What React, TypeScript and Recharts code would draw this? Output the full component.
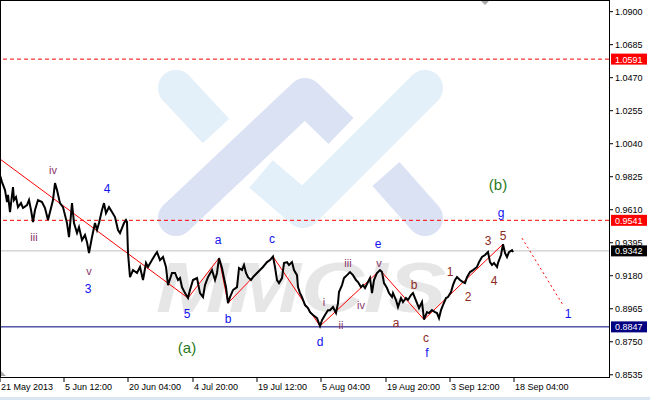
import React from "react";
import { LineChart, Line, XAxis, YAxis, ReferenceLine, ReferenceDot } from "recharts";

// H4 bars, one bar per pixel column; price
const barIndex = [
  0, 2, 5, 7, 8, 10, 13, 14, 16, 18, 21, 23, 27, 29, 31, 33, 35, 38, 42, 45, 48, 50, 53, 55, 57, 60, 63, 67, 69, 72,
  74, 77, 79, 82, 85, 87, 89, 92, 95, 97, 99, 102, 104, 106, 109, 112, 115, 118, 120, 124, 126, 127, 128, 130, 133,
  137, 140, 143, 146, 148, 152, 155, 157, 160, 163, 166, 168, 172, 175, 178, 180, 182, 185, 188, 190, 193, 197, 200,
  203, 205, 208, 212, 215, 217, 219, 222, 224, 226, 228, 230, 233, 237, 239, 242, 244, 246, 248, 251, 253, 257, 260,
  263, 267, 270, 273, 275, 277, 279, 282, 284, 287, 289, 292, 294, 297, 298, 300, 302, 305, 308, 310, 313, 317, 320,
  322, 325, 328, 330, 333, 336, 338, 339, 342, 344, 347, 350, 353, 356, 358, 361, 363, 365, 368, 370, 372, 374, 377,
  380, 382, 384, 387, 389, 392, 393, 396, 398, 401, 403, 406, 408, 411, 413, 415, 417, 419, 422, 424, 427, 429, 432,
  435, 437, 439, 441, 443, 446, 448, 451, 453, 455, 457, 460, 463, 465, 467, 470, 473, 477, 479, 482, 485, 488, 490,
  492, 494, 497, 498, 501, 503, 505, 507, 509, 512, 513,
];
const closePrice = [
  0.9835, 0.979, 0.9738, 0.966, 0.9706, 0.9595, 0.9758, 0.9673, 0.9693, 0.9627, 0.9653, 0.9621, 0.964, 0.9673,
  0.9608, 0.953, 0.9608, 0.9673, 0.966, 0.9621, 0.9543, 0.9595, 0.9673, 0.9784, 0.9738, 0.9653, 0.9627, 0.9523,
  0.9432, 0.9653, 0.9523, 0.9458, 0.9497, 0.9412, 0.9445, 0.9399, 0.9328, 0.9432, 0.9523, 0.9478, 0.9523, 0.9608,
  0.9653, 0.9588, 0.9627, 0.9595, 0.9562, 0.9478, 0.9458, 0.9523, 0.9543, 0.953, 0.9328, 0.9171, 0.9217, 0.9198,
  0.9237, 0.9152, 0.9263, 0.9237, 0.9282, 0.9315, 0.9334, 0.9282, 0.9302, 0.9237, 0.9119, 0.9198, 0.9198, 0.9152,
  0.9165, 0.9106, 0.9067, 0.9035, 0.9087, 0.9152, 0.9165, 0.9067, 0.9041, 0.9119, 0.9171, 0.9217, 0.9152, 0.9198,
  0.9295, 0.923, 0.9165, 0.9106, 0.9002, 0.9041, 0.9087, 0.9106, 0.923, 0.9217, 0.925, 0.9198, 0.9171, 0.9152,
  0.9171, 0.9198, 0.9217, 0.9237, 0.9269, 0.9282, 0.9305, 0.9237, 0.9152, 0.9132, 0.9165, 0.9263, 0.9269, 0.925,
  0.9269, 0.9217, 0.9184, 0.9106, 0.9067, 0.9041, 0.8989, 0.897, 0.8943, 0.8924, 0.8904, 0.8852, 0.8891, 0.8924,
  0.8956, 0.8956, 0.8976, 0.8937, 0.9002, 0.9074, 0.9119, 0.9165, 0.9184, 0.9204, 0.9184, 0.9152, 0.9139, 0.9106,
  0.9119, 0.91, 0.9139, 0.9165, 0.9067, 0.9152, 0.9198, 0.9217, 0.9204, 0.9132, 0.91, 0.9067, 0.9041, 0.9067,
  0.9022, 0.8976, 0.9035, 0.9009, 0.9035, 0.9022, 0.9054, 0.9067, 0.9035, 0.9002, 0.897, 0.9009, 0.8895, 0.8943,
  0.8937, 0.8956, 0.8943, 0.8937, 0.8904, 0.8956, 0.8989, 0.9035, 0.9041, 0.9074, 0.9119, 0.9152, 0.9171, 0.9152,
  0.9139, 0.9132, 0.9171, 0.9204, 0.9217, 0.9237, 0.9269, 0.9302, 0.9315, 0.9334, 0.9269, 0.925, 0.9263, 0.9237,
  0.9263, 0.9315, 0.9386, 0.9328, 0.9302, 0.9334, 0.9347, 0.9334,
];

// wave zigzag (red) and forecast (red dotted)
const waveBars = [0, 188, 219, 228, 273, 320, 380, 424, 503];
const wavePrices = [0.994, 0.9035, 0.9295, 0.9002, 0.9305, 0.8852, 0.9217, 0.8895, 0.9386];
const forecastBars = [522, 563];
const forecastPrices = [0.9425, 0.8989];

// horizontal levels
const levelPrices = [1.0591, 0.9541, 0.9342, 0.8847];
const levelKinds = ["target", "target", "last", "support"];

const priceTicks = [0.8535, 0.875, 0.8965, 0.918, 0.9395, 0.961, 0.9825, 1.004, 1.0255, 1.047, 1.0685, 1.09];
const timeTickBars = [0, 64, 128, 193, 257, 321, 386, 450, 514];
const timeTickLabels = [
  "21 May 2013", "5 Jun 12:00", "20 Jun 04:00", "4 Jul 20:00", "19 Jul 12:00",
  "5 Aug 04:00", "19 Aug 20:00", "3 Sep 12:00", "18 Sep 04:00",
];

// wave labels
const labelText = [
  "iv", "iii", "v", "3", "4", "5", "(a)", "a", "b", "c", "d", "i", "ii", "iii", "iv", "v", "e",
  "a", "b", "c", "f", "1", "2", "3", "4", "5", "(b)", "g", "1",
];
const labelBar = [
  53, 34, 89, 88, 107, 187, 187, 218, 228, 272, 320, 324, 341, 348, 361, 379, 378,
  396, 414, 426, 427, 450, 468, 488, 494, 503, 498, 501, 568,
];
const labelPrice = [
  0.9868, 0.9432, 0.921, 0.9093, 0.9745, 0.893, 0.8715, 0.9412, 0.8898, 0.9419, 0.8748, 0.9009, 0.8859, 0.9263,
  0.8989, 0.9263, 0.9386, 0.8872, 0.9119, 0.8774, 0.8676, 0.9204, 0.9041, 0.9406, 0.9145, 0.9438, 0.9777, 0.9588, 0.893,
];
const labelDegree = [
  "minuette", "minuette", "minuette", "minor", "minor", "minor", "intermediate", "minor", "minor", "minor", "minor",
  "minuette", "minuette", "minuette", "minuette", "minuette", "minor",
  "minute", "minute", "minute", "minor", "minute", "minute", "minute", "minute", "minute", "intermediate", "minor", "minor",
];

const priceData = barIndex.map((bar, i) => ({ bar, price: closePrice[i] }));
const waveData = waveBars.map((bar, i) => ({ bar, price: wavePrices[i] }));
const forecastData = forecastBars.map((bar, i) => ({ bar, price: forecastPrices[i] }));

const FONT = "'Liberation Sans', Arial, sans-serif";

const DEGREE_STYLE: Record<string, { color: string; size: number }> = {
  intermediate: { color: "#2a7a22", size: 15 },
  minor: { color: "#1010f0", size: 12 },
  minute: { color: "#8e2a1e", size: 12 },
  minuette: { color: "#8a3468", size: 11 },
};

const LEVEL_STYLE: Record<string, { stroke: string; dash?: string; box: string }> = {
  target: { stroke: "#ff0000", dash: "4 3", box: "#ff0000" },
  last: { stroke: "#c0c0c0", box: "#000000" },
  support: { stroke: "#000080", box: "#000080" },
};

function PriceTick({ x, y, payload }: any) {
  return (
    <g>
      <line x1={x - 5} x2={x - 2} y1={y} y2={y} stroke="#000" />
      <text x={x} y={y + 3} fontSize={9} fontFamily={FONT} fill="#000">
        {payload.value.toFixed(4)}
      </text>
    </g>
  );
}

function TimeTick({ x, y, payload }: any) {
  const idx = timeTickBars.indexOf(payload.value);
  return (
    <g>
      <line x1={x} x2={x} y1={y - 6} y2={y - 2} stroke="#000" />
      <text x={x + 1} y={y + 6} fontSize={9} fontFamily={FONT} fill="#000">
        {timeTickLabels[idx]}
      </text>
    </g>
  );
}

function Watermark() {
  return (
    <svg width={650} height={400} style={{ position: "absolute", left: 0, top: 0 }}>
      <text
        x={156}
        y={312}
        fontSize={70}
        fontStyle="italic"
        fontWeight="bold"
        fontFamily={FONT}
        fill="#e6e6e6"
        textLength={290}
        lengthAdjust="spacingAndGlyphs"
      >
        MMCIS
      </text>
      <g fill="none" strokeWidth={36} strokeLinejoin="round">
        <polyline points="176,88 216,131" stroke="#e3f0fa" />
        <circle cx={176} cy={88} r={18} fill="#e3f0fa" />
        <polyline points="176,218 305,96 341,131" stroke="#dbe2f4" />
        <circle cx={176} cy={218} r={18} fill="#dbe2f4" />
        <polyline points="386,174 425,218" stroke="#dbe2f4" />
        <circle cx={425} cy={218} r={18} fill="#dbe2f4" />
        <polyline points="261,174 303,210 425,88" stroke="#e3f0fa" />
        <circle cx={425} cy={88} r={18} fill="#e3f0fa" />
      </g>
    </svg>
  );
}

export default function App() {
  return (
    <div style={{ position: "fixed", left: 0, top: 0, width: 650, height: 400, background: "#fff", overflow: "hidden" }}>
      <Watermark />
      <div style={{ position: "absolute", left: 0, top: 0 }}>
        <LineChart width={650} height={400} data={priceData} margin={{ top: 0, right: 0, bottom: 0, left: 0 }}>
          <XAxis
            dataKey="bar"
            type="number"
            domain={[0, 609]}
            ticks={timeTickBars}
            interval={0}
            height={22}
            axisLine={false}
            tickLine={false}
            tickSize={4}
            tickMargin={2}
            tick={<TimeTick />}
            allowDataOverflow
          />
          <YAxis
            orientation="right"
            type="number"
            domain={[0.8514, 1.0976]}
            ticks={priceTicks}
            interval={0}
            width={41}
            axisLine={false}
            tickLine={false}
            tickSize={4}
            tickMargin={2}
            tick={<PriceTick />}
            allowDataOverflow
          />
          {levelPrices.map((p, i) => {
            const s = LEVEL_STYLE[levelKinds[i]];
            return (
              <ReferenceLine
                key={`lvl-${i}`}
                y={p}
                stroke={s.stroke}
                strokeDasharray={s.dash}
                strokeWidth={1}
                label={{
                  content: (props: any) => {
                    const vb = props.viewBox || {};
                    const bx = vb.x + vb.width + 2;
                    return (
                      <g>
                        <rect x={bx} y={vb.y - 5.5} width={36} height={11} fill={s.box} />
                        <text x={bx + 4} y={vb.y + 3.5} fontSize={9} fontFamily={FONT} fill="#fff">
                          {p.toFixed(4)}
                        </text>
                      </g>
                    );
                  },
                }}
              />
            );
          })}
          <Line
            data={waveData}
            dataKey="price"
            stroke="#ff0000"
            strokeWidth={1}
            dot={false}
            activeDot={false}
            isAnimationActive={false}
          />
          <Line
            data={forecastData}
            dataKey="price"
            stroke="#ff0000"
            strokeWidth={1}
            strokeDasharray="2 3"
            dot={false}
            activeDot={false}
            isAnimationActive={false}
          />
          <Line
            dataKey="price"
            stroke="#000"
            strokeWidth={2}
            dot={false}
            activeDot={false}
            isAnimationActive={false}
          />
          {labelText.map((t, i) => {
            const st = DEGREE_STYLE[labelDegree[i]];
            return (
              <ReferenceDot
                key={`lbl-${i}`}
                x={labelBar[i]}
                y={labelPrice[i]}
                r={0}
                ifOverflow="visible"
                shape={(props: any) => (
                  <text
                    x={props.cx}
                    y={props.cy}
                    textAnchor="middle"
                    dominantBaseline="central"
                    fontSize={st.size}
                    fontFamily={FONT}
                    fill={st.color}
                  >
                    {t}
                  </text>
                )}
              />
            );
          })}
        </LineChart>
      </div>
      <div
        style={{
          position: "absolute",
          left: 0,
          top: 0,
          width: 610,
          height: 378,
          border: "1px solid #000",
          boxSizing: "border-box",
          pointerEvents: "none",
        }}
      />
      <svg width={650} height={400} style={{ position: "absolute", left: 0, top: 0, pointerEvents: "none" }}>
        <polygon points="481,1 489,1 485,5" fill="#a8a8a8" />
        <polygon points="1,371 1,376 6,376" fill="#a8a8a8" />
      </svg>
      <div style={{ position: "absolute", left: 0, top: 397, width: 650, height: 3, background: "#dce6f2" }} />
    </div>
  );
}
